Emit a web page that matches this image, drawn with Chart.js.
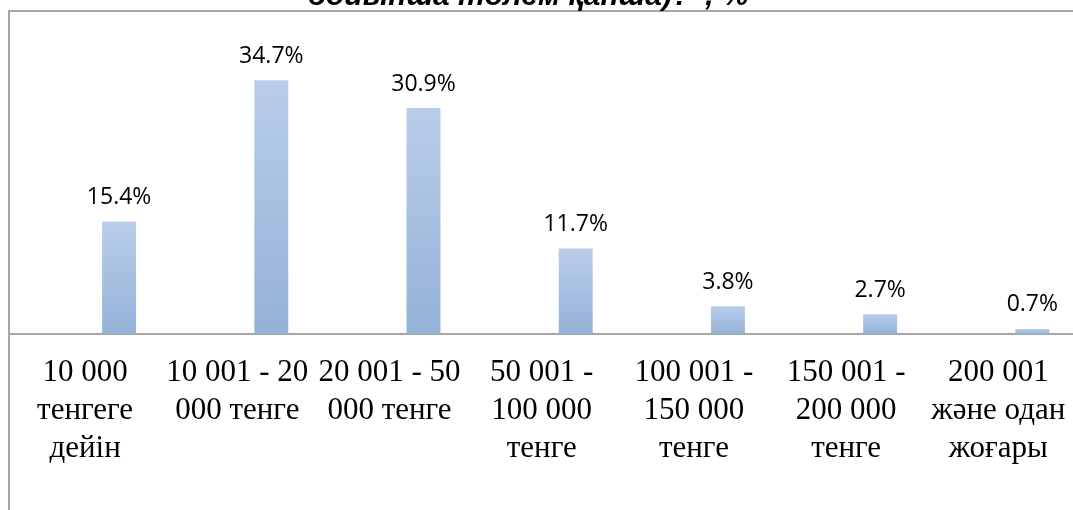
<!DOCTYPE html>
<html>
<head>
<meta charset="utf-8">
<script src="https://cdn.jsdelivr.net/npm/chart.js@4"></script>
<style>
  html, body { margin: 0; padding: 0; background: #fff; overflow: hidden; }
  #wrap { position: relative; width: 1120px; height: 510px; }
</style>
</head>
<body>
<div id="wrap"><canvas id="chart"></canvas></div>
<script>
// Payment ranges, split into lines the way the picture wraps them
const categories = [
  ['10 000', 'тенгеге', 'дейін'],
  ['10 001 - 20', '000 тенге'],
  ['20 001 - 50', '000 тенге'],
  ['50 001 -', '100 000', 'тенге'],
  ['100 001 -', '150 000', 'тенге'],
  ['150 001 -', '200 000', 'тенге'],
  ['200 001', 'және одан', 'жоғары']
];
// Share of respondents, %
const shares = [15.4, 34.7, 30.9, 11.7, 3.8, 2.7, 0.7];
const titleText = 'бойынша төлем қанша)?”, %';
const yMax = 45;

// frame lines around the (cropped) chart and the zero axis line
const framePlugin = {
  id: 'frame',
  beforeDatasetsDraw(chart) {
    const ctx = chart.ctx;
    const zero = chart.scales.y.getPixelForValue(0);
    ctx.save();
    ctx.strokeStyle = '#a6a6a6';
    ctx.lineWidth = 2;
    ctx.beginPath();
    ctx.moveTo(9, chart.height);
    ctx.lineTo(9, 11);
    ctx.lineTo(chart.width, 11);
    ctx.moveTo(9, zero);
    ctx.lineTo(chart.width, zero);
    ctx.stroke();
    ctx.restore();
  }
};

// value labels above bars + the clipped title line
const labelPlugin = {
  id: 'valueLabels',
  afterDatasetsDraw(chart) {
    const ctx = chart.ctx;
    const meta = chart.getDatasetMeta(0);
    ctx.save();
    ctx.fillStyle = '#000';
    ctx.font = '23px "Open Sans"';
    ctx.textAlign = 'center';
    ctx.textBaseline = 'middle';
    meta.data.forEach((bar, i) => {
      ctx.fillText(shares[i].toFixed(1) + '%', bar.x, bar.y - 24);
    });
    ctx.font = 'italic bold 30px "Liberation Sans"';
    ctx.textBaseline = 'alphabetic';
    ctx.fillText(titleText, 528, 5);
    ctx.restore();
  }
};

new Chart(document.getElementById('chart'), {
  type: 'bar',
  data: {
    labels: categories,
    datasets: [{
      data: shares,
      backgroundColor: function (c) {
        const chart = c.chart;
        if (!chart.chartArea || c.type !== 'data') return '#a7c0e2';
        const y = chart.scales.y;
        const top = y.getPixelForValue(c.raw);
        const bottom = y.getPixelForValue(0);
        const g = chart.ctx.createLinearGradient(0, top, 0, bottom);
        g.addColorStop(0, '#b9cdea');
        g.addColorStop(1, '#94b1d7');
        return g;
      },
      borderWidth: 0,
      categoryPercentage: 1,
      barPercentage: 0.223
    }]
  },
  options: {
    responsive: true,
    maintainAspectRatio: false,
    animation: false,
    layout: { padding: { left: 43, right: 9.5, top: 5, bottom: 0 } },
    plugins: {
      legend: { display: false },
      tooltip: { enabled: false },
      title: { display: false }
    },
    scales: {
      x: {
        grid: { display: false, drawTicks: false },
        border: { display: false },
        ticks: {
          color: '#000',
          font: { family: '"Liberation Serif"', size: 31, lineHeight: 1.22 },
          padding: 20,
          labelOffset: -34,
          autoSkip: false,
          maxRotation: 0,
          minRotation: 0
        },
        afterFit: function (scale) { scale.height = 176; }
      },
      y: {
        display: false,
        min: 0,
        max: yMax
      }
    }
  },
  plugins: [framePlugin, labelPlugin]
});
</script>
</body>
</html>
